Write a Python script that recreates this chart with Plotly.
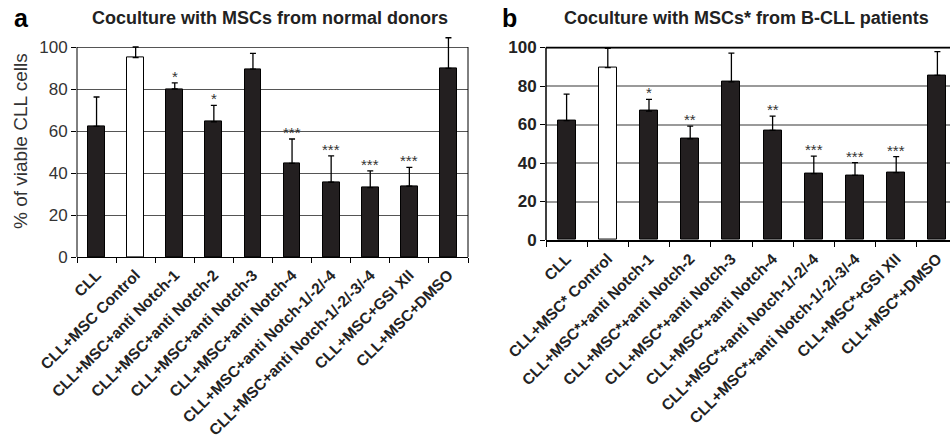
import plotly.graph_objects as go

cats_a = ["CLL", "CLL+MSC Control", "CLL+MSC+anti Notch-1", "CLL+MSC+anti Notch-2",
          "CLL+MSC+anti Notch-3", "CLL+MSC+anti Notch-4", "CLL+MSC+anti Notch-1/-2/-4",
          "CLL+MSC+anti Notch-1/-2/-3/-4", "CLL+MSC+GSI XII", "CLL+MSC+DMSO"]
vals_a = [62.2, 94.9, 80.0, 64.4, 89.5, 44.6, 35.6, 33.0, 33.7, 89.8]
errtop_a = [76.2, 100.0, 82.9, 72.2, 97.0, 56.2, 48.2, 41.0, 42.7, 104.4]
stars_a = ["", "", "*", "*", "", "***", "***", "***", "***", ""]

cats_b = ["CLL", "CLL+MSC* Control", "CLL+MSC*+anti Notch-1", "CLL+MSC*+anti Notch-2",
          "CLL+MSC*+anti Notch-3", "CLL+MSC*+anti Notch-4", "CLL+MSC*+anti Notch-1/-2/-4",
          "CLL+MSC*+anti Notch-1/-2/-3/-4", "CLL+MSC*+GSI XII", "CLL+MSC*+DMSO"]
vals_b = [62.0, 89.5, 67.0, 52.6, 82.1, 57.0, 34.5, 33.6, 35.0, 85.5]
errtop_b = [75.8, 99.6, 73.1, 59.2, 97.1, 64.4, 43.6, 40.2, 43.3, 97.9]
stars_b = ["", "", "*", "**", "", "**", "***", "***", "***", ""]

yticks = [0, 20, 40, 60, 80, 100]

W, H = 950, 445
FONT = "Liberation Sans, Arial, Helvetica, sans-serif"
DARK = "#231f20"


def py(p):
    return 1 - p / H


def colors(cats):
    return ["white" if "Control" in c else DARK for c in cats]


fig = go.Figure()
for cats, vals, tops, xa, ya, bw in [(cats_a, vals_a, errtop_a, "x", "y", 0.43),
                                    (cats_b, vals_b, errtop_b, "x2", "y2", 0.44)]:
    fig.add_trace(go.Bar(
        x=cats, y=vals, xaxis=xa, yaxis=ya, width=bw,
        marker=dict(color=colors(cats), line=dict(color="black", width=1)),
        error_y=dict(type="data", symmetric=False,
                     array=[t - v for t, v in zip(tops, vals)],
                     arrayminus=[0] * len(vals),
                     color="black", thickness=1.3, width=3),
        showlegend=False, hoverinfo="skip"))

xfont = dict(family=FONT, size=15.5, color="#222", weight="bold")

fig.update_layout(
    width=W, height=H, margin=dict(l=0, r=0, t=0, b=0),
    paper_bgcolor="white", plot_bgcolor="white", bargap=0,
    xaxis=dict(domain=[77 / W, 468 / W], type="category", range=[-0.5, 9.5],
               tickson="boundaries", ticks="outside", ticklen=5, tickcolor="black",
               showline=True, linecolor="black", linewidth=1, showgrid=False,
               tickangle=-45, automargin=False, ticklabelstandoff=2,
               tickfont=xfont),
    yaxis=dict(domain=[py(257), py(257 - 2.1 * 106)], range=[0, 106],
               tickvals=yticks, ticks="outside", ticklen=5, tickcolor="black",
               showline=False, showgrid=True, gridcolor="#555", gridwidth=1,
               zeroline=False, automargin=False,
               tickfont=dict(family=FONT, size=17, color="#333")),
    xaxis2=dict(domain=[546 / W, 1.0], type="category", range=[-0.5, 9.5 - 8 / 41.2],
                tickson="boundaries", ticks="outside", ticklen=5, tickcolor="black",
                showline=True, linecolor="black", linewidth=1.5, showgrid=False,
                tickangle=-45, automargin=False, anchor="y2", ticklabelstandoff=2,
                tickfont=xfont),
    yaxis2=dict(domain=[py(240), py(240 - 1.925 * 101)], range=[0, 101], anchor="x2",
                tickvals=yticks, ticks="outside", ticklen=5, tickcolor="black",
                showline=False, showgrid=True, gridcolor="#9a9a9a", gridwidth=1.6,
                zeroline=False, automargin=False,
                tickfont=dict(family=FONT, size=17, color="#222", weight="bold")),
)

shapes = [
    dict(type="line", xref="x domain", yref="y", x0=0, x1=0, y0=0, y1=100,
         line=dict(color="black", width=1)),
    dict(type="line", xref="x domain", yref="y", x0=1, x1=1, y0=0, y1=100,
         line=dict(color="black", width=1)),
    dict(type="line", xref="x2 domain", yref="y2", x0=0, x1=0, y0=0, y1=100,
         line=dict(color="black", width=1.5)),
    dict(type="line", xref="x2 domain", yref="y2", x0=0, x1=1, y0=100, y1=100,
         line=dict(color="black", width=1.5)),
]
fig.update_layout(shapes=shapes)

ann = []
for cats, tops, stars, xr, yr in [(cats_a, errtop_a, stars_a, "x", "y"),
                                  (cats_b, errtop_b, stars_b, "x2", "y2")]:
    for c, t, s in zip(cats, tops, stars):
        if s:
            ann.append(dict(x=c, y=t, xref=xr, yref=yr, text=s, showarrow=False,
                            yanchor="bottom", yshift=-4,
                            font=dict(family=FONT, size=15, color="#333")))

ann += [
    dict(x=12 / W, y=py(18), xref="paper", yref="paper", text="a", showarrow=False,
         xanchor="left", yanchor="middle",
         font=dict(family=FONT, size=25, color="black", weight="bold")),
    dict(x=269.5 / W, y=py(18), xref="paper", yref="paper",
         text="Coculture with MSCs from normal donors", showarrow=False,
         xanchor="center", yanchor="middle",
         font=dict(family=FONT, size=18, color="#222", weight="bold")),
    dict(x=500 / W, y=py(18), xref="paper", yref="paper", text="b", showarrow=False,
         xanchor="left", yanchor="middle",
         font=dict(family=FONT, size=25, color="black", weight="bold")),
    dict(x=746.5 / W, y=py(18), xref="paper", yref="paper",
         text="Coculture with MSCs* from B-CLL patients", showarrow=False,
         xanchor="center", yanchor="middle",
         font=dict(family=FONT, size=18, color="#222", weight="bold")),
    dict(x=20 / W, y=py(141), xref="paper", yref="paper",
         text="% of viable CLL cells", showarrow=False, textangle=-90,
         xanchor="center", yanchor="middle",
         font=dict(family=FONT, size=19, color="#333")),
]
fig.update_layout(annotations=ann)

fig.write_html("out.html")
